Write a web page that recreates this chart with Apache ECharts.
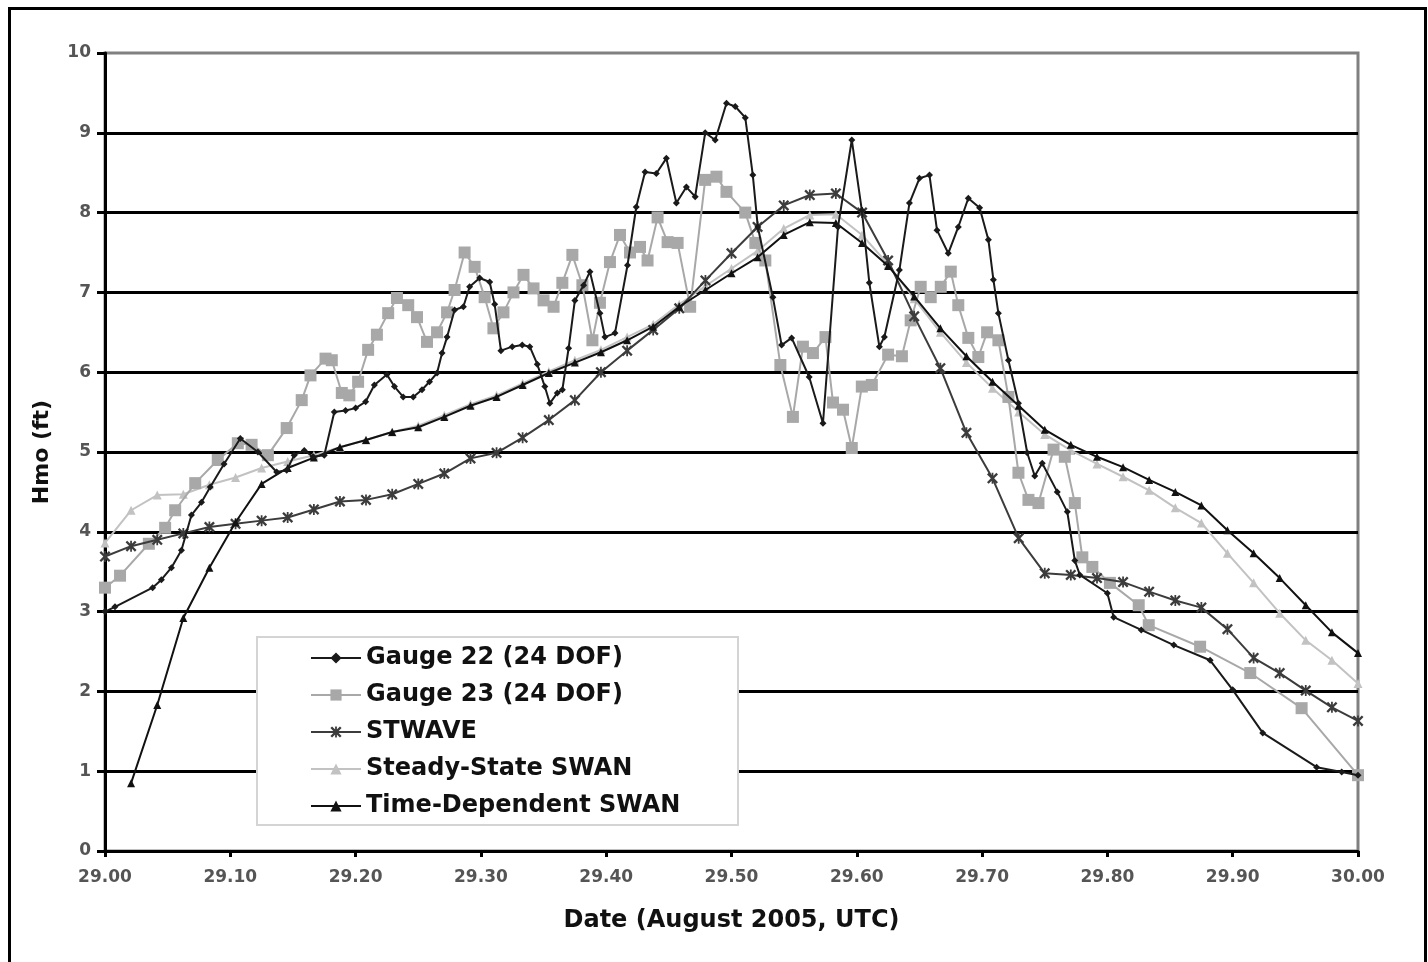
<!DOCTYPE html>
<html><head><meta charset="utf-8">
<script src="https://cdn.jsdelivr.net/npm/echarts@6/dist/echarts.min.js"></script>
<style>html,body{margin:0;padding:0;background:#fff}#c{width:1428px;height:962px}</style>
</head><body><div id="c"></div>
<script>
// ---- Data ----
const seriesNames = ['Gauge 22 (24 DOF)', 'Gauge 23 (24 DOF)', 'STWAVE', 'Steady-State SWAN', 'Time-Dependent SWAN'];
const xTickLabels = ['29.00','29.10','29.20','29.30','29.40','29.50','29.60','29.70','29.80','29.90','30.00'];

const gauge22Time = [29.000,29.008,29.038,29.045,29.053,29.061,29.069,29.077,29.084,29.095,29.108,29.122,29.137,29.145,29.151,29.159,29.166,29.175,29.183,29.192,29.200,29.208,29.215,29.225,29.231,29.238,29.246,29.253,29.259,29.265,29.269,29.273,29.279,29.286,29.291,29.299,29.307,29.311,29.316,29.325,29.333,29.339,29.345,29.351,29.355,29.361,29.365,29.370,29.375,29.382,29.387,29.395,29.399,29.407,29.417,29.424,29.431,29.440,29.448,29.456,29.464,29.471,29.479,29.487,29.496,29.503,29.511,29.517,29.521,29.533,29.540,29.548,29.562,29.573,29.585,29.596,29.604,29.610,29.618,29.622,29.634,29.642,29.650,29.658,29.664,29.673,29.681,29.689,29.698,29.705,29.709,29.713,29.721,29.729,29.736,29.742,29.748,29.760,29.768,29.774,29.778,29.800,29.805,29.827,29.853,29.882,29.900,29.924,29.967,29.987,30.000];
const gauge22Hmo = [3.00,3.06,3.30,3.40,3.55,3.77,4.21,4.37,4.56,4.85,5.17,5.00,4.75,4.77,4.96,5.02,4.94,4.96,5.50,5.52,5.55,5.63,5.84,5.97,5.82,5.69,5.69,5.78,5.88,5.99,6.24,6.44,6.78,6.82,7.07,7.18,7.13,6.85,6.27,6.32,6.34,6.32,6.10,5.82,5.61,5.74,5.78,6.30,6.90,7.09,7.26,6.74,6.44,6.49,7.34,8.07,8.51,8.49,8.68,8.12,8.32,8.20,9.00,8.91,9.37,9.33,9.19,8.47,7.82,6.94,6.34,6.43,5.94,5.36,7.82,8.91,8.03,7.12,6.32,6.44,7.28,8.12,8.43,8.47,7.78,7.49,7.82,8.18,8.06,7.66,7.16,6.74,6.15,5.61,4.99,4.70,4.86,4.50,4.25,3.64,3.46,3.23,2.93,2.77,2.58,2.39,2.02,1.48,1.05,0.99,0.95];

const gauge23Time = [29.000,29.012,29.035,29.048,29.056,29.072,29.090,29.106,29.117,29.130,29.145,29.157,29.164,29.176,29.181,29.189,29.195,29.202,29.210,29.217,29.226,29.233,29.242,29.249,29.257,29.265,29.273,29.279,29.287,29.295,29.303,29.310,29.318,29.326,29.334,29.342,29.350,29.358,29.365,29.373,29.381,29.389,29.395,29.403,29.411,29.419,29.427,29.433,29.441,29.449,29.457,29.467,29.479,29.488,29.496,29.511,29.519,29.527,29.539,29.549,29.557,29.565,29.575,29.581,29.589,29.596,29.604,29.612,29.625,29.636,29.643,29.651,29.659,29.667,29.675,29.681,29.689,29.697,29.704,29.713,29.721,29.729,29.737,29.745,29.757,29.766,29.774,29.780,29.788,29.802,29.825,29.833,29.874,29.914,29.955,30.000];
const gauge23Hmo = [3.30,3.45,3.85,4.05,4.27,4.61,4.90,5.11,5.09,4.96,5.30,5.65,5.96,6.17,6.15,5.74,5.71,5.88,6.28,6.47,6.74,6.93,6.84,6.69,6.38,6.50,6.75,7.03,7.50,7.32,6.94,6.55,6.75,7.00,7.22,7.05,6.90,6.82,7.12,7.47,7.09,6.40,6.87,7.38,7.72,7.50,7.57,7.40,7.94,7.63,7.62,6.82,8.41,8.45,8.26,8.00,7.62,7.40,6.09,5.44,6.32,6.24,6.44,5.62,5.53,5.05,5.82,5.84,6.22,6.20,6.65,7.07,6.94,7.07,7.26,6.84,6.43,6.19,6.50,6.40,5.69,4.74,4.40,4.36,5.03,4.94,4.36,3.68,3.56,3.36,3.08,2.83,2.56,2.23,1.79,0.95];

const modelTime = [29.0000,29.0208,29.0417,29.0625,29.0833,29.1042,29.1250,29.1458,29.1667,29.1875,29.2083,29.2292,29.2500,29.2708,29.2917,29.3125,29.3333,29.3542,29.3750,29.3958,29.4167,29.4375,29.4583,29.4792,29.5000,29.5208,29.5417,29.5625,29.5833,29.6042,29.6250,29.6458,29.6667,29.6875,29.7083,29.7292,29.7500,29.7708,29.7917,29.8125,29.8333,29.8542,29.8750,29.8958,29.9167,29.9375,29.9583,29.9792,30.0000];
const stwaveHmo = [3.69,3.82,3.90,3.98,4.06,4.10,4.14,4.18,4.28,4.38,4.40,4.47,4.60,4.73,4.92,4.99,5.18,5.40,5.65,6.00,6.27,6.53,6.80,7.15,7.49,7.82,8.09,8.22,8.24,8.00,7.40,6.70,6.05,5.24,4.67,3.92,3.48,3.46,3.42,3.37,3.25,3.14,3.05,2.78,2.42,2.23,2.01,1.80,1.63];
const steadySwanHmo = [3.86,4.27,4.46,4.47,4.59,4.68,4.80,4.88,4.96,5.06,5.15,5.25,5.33,5.46,5.60,5.71,5.86,6.01,6.15,6.28,6.44,6.60,6.85,7.08,7.30,7.52,7.80,7.97,7.98,7.72,7.35,6.92,6.50,6.12,5.80,5.50,5.22,5.02,4.85,4.69,4.52,4.30,4.11,3.73,3.36,2.98,2.64,2.39,2.10];
const timeDepSwanHmo = [null,0.85,1.83,2.92,3.55,4.12,4.60,4.80,4.93,5.06,5.15,5.25,5.31,5.44,5.58,5.69,5.84,5.99,6.12,6.25,6.40,6.57,6.82,7.03,7.24,7.44,7.72,7.88,7.87,7.62,7.33,6.95,6.55,6.20,5.88,5.58,5.28,5.09,4.94,4.81,4.65,4.50,4.33,4.02,3.73,3.42,3.08,2.74,2.48];

// ---- Chart ----
const pair = (ts, vs) => ts.map((t, i) => [t, vs[i]]);
const FONT = 'DejaVu Sans';
const asterisk = 'path://M1.5,0 L5,3.5 L8.5,0 L10,1.5 L6.5,5 L10,8.5 L8.5,10 L5,6.5 L1.5,10 L0,8.5 L3.5,5 L0,1.5 Z M4.2,0 L5.8,0 L5.8,10 L4.2,10 Z';

const chart = echarts.init(document.getElementById('c'), null, {renderer: 'canvas'});
chart.setOption({
  animation: false,
  backgroundColor: '#ffffff',
  textStyle: {fontFamily: FONT},
  graphic: [{
    type: 'rect', left: 7, top: 6, z: 100, silent: true,
    shape: {x: 0, y: 0, width: 1416, height: 1000},
    style: {fill: 'none', stroke: '#000', lineWidth: 3}
  }],
  grid: {left: 105, right: 70, top: 53, bottom: 111, show: true, borderColor: '#808080', borderWidth: 3, backgroundColor: 'transparent'},
  legend: {
    orient: 'vertical', left: 257, top: 637,
    data: seriesNames,
    backgroundColor: '#ffffff', borderColor: '#d4d4d4', borderWidth: 2,
    padding: [7, 50, 5, 53],
    itemWidth: 50, itemHeight: 14, itemGap: 9,
    textStyle: {fontFamily: FONT, fontSize: 24, fontWeight: 'bold', color: '#111', lineHeight: 28, width: 322, padding: [0, 0, 0, 0]},
    selectedMode: false
  },
  xAxis: {
    type: 'value', min: 29, max: 30, interval: 0.1,
    name: 'Date (August 2005, UTC)', nameLocation: 'middle', nameGap: 58,
    nameTextStyle: {fontFamily: FONT, fontSize: 24, fontWeight: 'bold', color: '#111'},
    axisLine: {show: true, onZero: false, lineStyle: {color: '#000', width: 3}},
    axisTick: {show: true, length: 6, lineStyle: {color: '#000', width: 3}},
    axisLabel: {margin: 18, fontFamily: FONT, fontSize: 17, fontWeight: 'bold', color: '#555',
      formatter: v => xTickLabels[Math.round((v - 29) * 10)]},
    splitLine: {show: false}
  },
  yAxis: {
    type: 'value', min: 0, max: 10, interval: 1,
    name: 'Hmo (ft)', nameLocation: 'middle', nameRotate: 90, nameGap: 52,
    nameTextStyle: {fontFamily: FONT, fontSize: 22, fontWeight: 'bold', color: '#111'},
    axisLine: {show: true, lineStyle: {color: '#000', width: 3}},
    axisTick: {show: true, length: 8, lineStyle: {color: '#000', width: 3}},
    axisLabel: {margin: 14, fontFamily: FONT, fontSize: 17, fontWeight: 'bold', color: '#555'},
    splitLine: {show: true, showMaxLine: false, lineStyle: {color: '#000', width: 3}}
  },
  series: [
    {name: seriesNames[0], type: 'line', data: pair(gauge22Time, gauge22Hmo), z: 6,
     symbol: 'diamond', symbolSize: 7, showSymbol: true,
     lineStyle: {color: '#1a1a1a', width: 2}, itemStyle: {color: '#1a1a1a'}},
    {name: seriesNames[1], type: 'line', data: pair(gauge23Time, gauge23Hmo), z: 3,
     symbol: 'rect', symbolSize: 12, showSymbol: true,
     lineStyle: {color: '#a8a8a8', width: 2}, itemStyle: {color: '#a8a8a8'}},
    {name: seriesNames[2], type: 'line', data: pair(modelTime, stwaveHmo), z: 4,
     symbol: asterisk, symbolSize: 11, showSymbol: true,
     lineStyle: {color: '#3c3c3c', width: 2}, itemStyle: {color: '#3c3c3c'}},
    {name: seriesNames[3], type: 'line', data: pair(modelTime, steadySwanHmo), z: 2,
     symbol: 'triangle', symbolSize: 9, showSymbol: true,
     lineStyle: {color: '#c2c2c2', width: 2}, itemStyle: {color: '#c2c2c2'}},
    {name: seriesNames[4], type: 'line', data: pair(modelTime, timeDepSwanHmo), z: 5,
     symbol: 'triangle', symbolSize: 8, showSymbol: true, connectNulls: false,
     lineStyle: {color: '#111', width: 2}, itemStyle: {color: '#111'}}
  ]
});
</script></body></html>
